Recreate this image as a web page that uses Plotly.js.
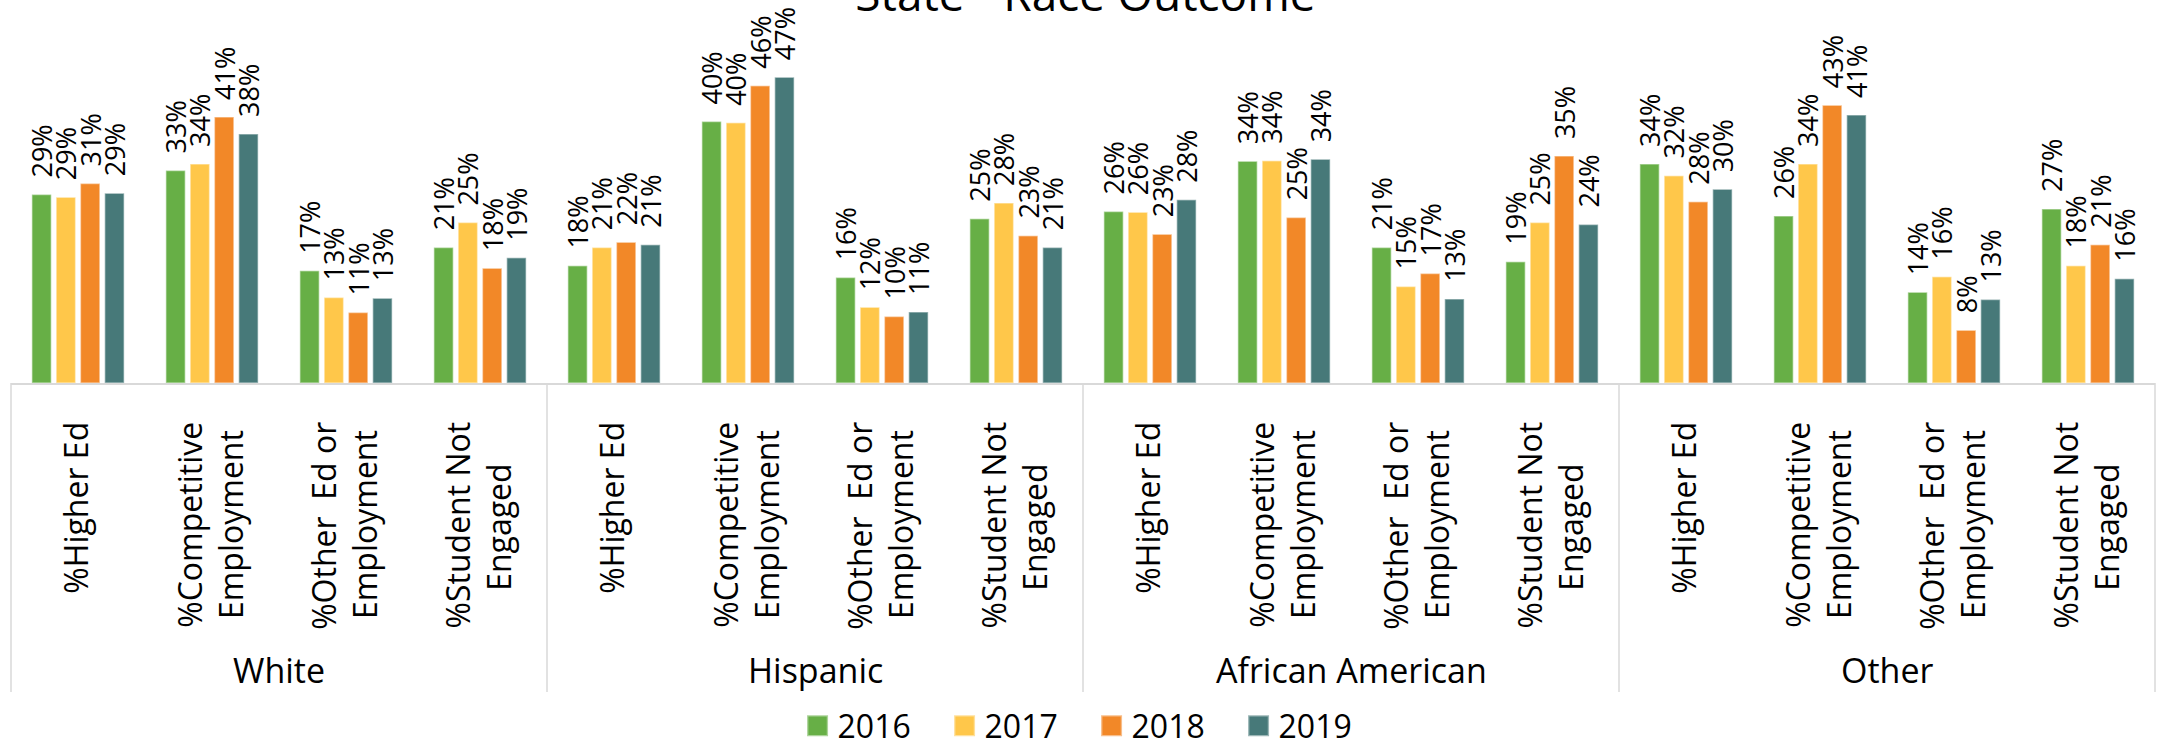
<!DOCTYPE html>
<html>
<head>
<meta charset="utf-8">
<script src="https://cdn.plot.ly/plotly-3.0.1.min.js"></script>
<style>html,body{margin:0;padding:0;background:#fff;}#chart{width:2158px;height:752px;}</style>
</head>
<body>
<div id="chart"></div>
<script>
// ---- data ----
const groups = ['White', 'Hispanic', 'African American', 'Other'];
const outcomes = ['%Higher Ed', '%Competitive<br>Employment', '%Other\u00A0 Ed or<br>Employment', '%Student Not<br>Engaged'];
const years = ['2016', '2017', '2018', '2019'];
const v2016 = [28.9, 32.6, 17.2, 20.8, 18.0, 40.1, 16.2, 25.2, 26.3, 34.0, 20.8, 18.6, 33.6, 25.6, 13.9, 26.7];
const v2017 = [28.5, 33.6, 13.1, 24.6, 20.8, 39.9, 11.6, 27.6, 26.2, 34.1, 14.8, 24.6, 31.8, 33.6, 16.3, 18.0];
const v2018 = [30.6, 40.8, 10.8, 17.6, 21.6, 45.6, 10.2, 22.6, 22.8, 25.4, 16.8, 34.8, 27.8, 42.6, 8.1, 21.2];
const v2019 = [29.1, 38.2, 13.0, 19.2, 21.2, 46.9, 10.9, 20.8, 28.1, 34.3, 12.9, 24.3, 29.7, 41.1, 12.8, 16.0];
const seriesValues = [v2016, v2017, v2018, v2019];
const colors = ['#67AF46', '#FFC74A', '#F28828', '#477979'];

// ---- build ----
const TICK_FONT = 32;
const cv = document.createElement('canvas').getContext('2d');
cv.font = TICK_FONT + 'px "Open Sans"';
const nbspW = cv.measureText('\u00A0').width || TICK_FONT * 0.26;
// centre shorter lines of multi-line rotated labels (pad at the end, which sits next to the axis)
function centreLines(label) {
  const lines = label.split('<br>');
  if (lines.length < 2) return label;
  const widths = lines.map(l => cv.measureText(l).width);
  const maxW = Math.max(...widths);
  return lines.map((l, i) => l + '\u00A0'.repeat(Math.max(0, Math.round((maxW - widths[i]) / 2 / nbspW)))).join('<br>');
}

const keys = [], tickText = [];
groups.forEach(g => outcomes.forEach(o => { keys.push(g + '|' + o); tickText.push(centreLines(o)); }));

const W = 2158, H = 752;
const m = {l: 11, r: 3, t: 20, b: 369};
const plotH = H - m.t - m.b;
const pxPerPct = 6.52;
const yMax = plotH / pxPerPct;
const py = px => (H - m.b - px) / plotH; // pixel y -> paper y

const traces = years.map((yr, i) => ({
  type: 'bar',
  name: yr,
  x: keys,
  y: seriesValues[i],
  marker: {color: colors[i], line: {color: 'rgba(255,255,255,0.45)', width: 1.5}},
  texttemplate: '\u00A0\u00A0%{y:.0f}%',
  textposition: 'outside',
  textangle: -90,
  constraintext: 'none',
  cliponaxis: false,
  textfont: {family: 'Open Sans', size: 27, color: '#000'},
  hoverinfo: 'skip'
}));

const shapes = [];
for (let b = 0; b <= groups.length; b++) {
  const xp = (b * outcomes.length) / keys.length;
  shapes.push({type: 'line', xref: 'paper', yref: 'paper', x0: xp, x1: xp, y0: 0, y1: py(692),
    line: {color: '#D9D9D9', width: 1.5}});
}
const annotations = groups.map((g, gi) => ({
  xref: 'paper', yref: 'paper',
  x: (gi * outcomes.length + outcomes.length / 2) / keys.length,
  y: py(670), xanchor: 'center', yanchor: 'middle',
  text: g, showarrow: false,
  font: {family: 'Open Sans', size: 34, color: '#000'}
}));

const layout = {
  width: W, height: H,
  margin: Object.assign({autoexpand: false}, m),
  paper_bgcolor: '#fff', plot_bgcolor: '#fff',
  title: {text: 'State - Race Outcome', x: 0.503, xanchor: 'center', y: 1 - 11 / H, yanchor: 'bottom',
    font: {family: 'Open Sans', size: 46, color: '#000'}},
  barmode: 'group', bargap: 0.275, bargroupgap: 0.2,
  xaxis: {type: 'category', tickvals: keys, ticktext: tickText, tickangle: -90,
    showline: true, linecolor: '#D9D9D9', linewidth: 2, ticks: '', showgrid: false,
    ticklabelstandoff: 24,
    tickfont: {family: 'Open Sans', size: TICK_FONT, color: '#000'}},
  yaxis: {range: [0, yMax], visible: false, fixedrange: true},
  showlegend: true,
  legend: {orientation: 'h', x: 0.504, xanchor: 'center', y: py(726), yanchor: 'middle',
    font: {family: 'Open Sans', size: 32, color: '#000'}, entrywidth: 102, traceorder: 'normal'},
  shapes: shapes,
  annotations: annotations
};

Plotly.newPlot('chart', traces, layout, {displayModeBar: false, staticPlot: true}).then(gd => {
  gd.querySelectorAll('.legend .legendpoints path').forEach(p => {
    const t = p.getAttribute('transform') || '';
    p.setAttribute('transform', t + ' scale(1.75)');
  });
});
</script>
</body>
</html>
